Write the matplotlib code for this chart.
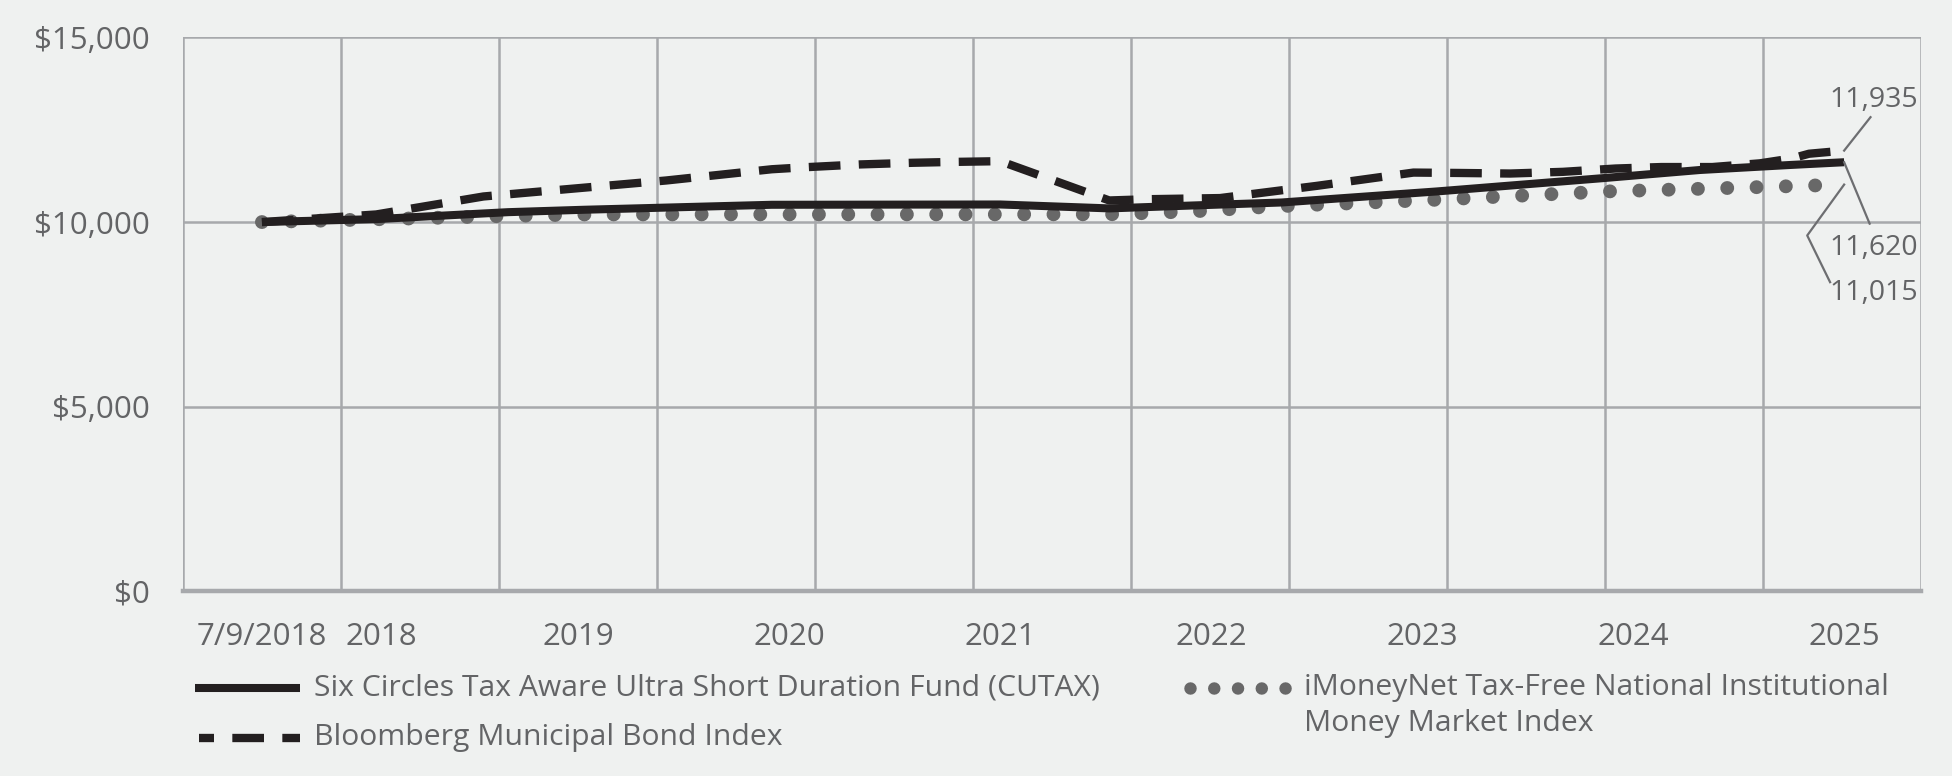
import matplotlib
matplotlib.use("Agg")
import matplotlib.pyplot as plt
from matplotlib.lines import Line2D
import numpy as np

plt.rcParams['font.family'] = ['Open Sans', 'DejaVu Sans']

# x = months since inception (7/9/2018), values = growth of $10,000
fund_x = [0, 6.5, 14, 18.3, 29, 42, 48.2, 53, 58, 66.8, 76.3, 81.8, 86.9, 90]
fund_y = [10000, 10080, 10268, 10333, 10468, 10476, 10370, 10450, 10530, 10828,
          11190, 11410, 11545, 11620]

muni_x = [0, 6.5, 12.6, 23, 29, 31, 34, 37, 39.5, 42, 48.2, 50.5, 54.5, 60, 65.5,
          68, 71, 74, 77, 79.6, 82.5, 85.2, 87, 88, 90]
muni_y = [10000, 10206, 10693, 11126, 11430, 11487, 11560, 11605, 11630, 11649,
          10585, 10620, 10650, 10980, 11340, 11330, 11314, 11360, 11450, 11490,
          11490, 11590, 11720, 11850, 11935]

mm_x = [0, 8.4, 13.4, 18.4, 48.2, 53, 57.5, 66.6, 76.6, 86.5, 90]
mm_y = [10000, 10097, 10160, 10206, 10210, 10290, 10422, 10600, 10830, 10965, 11015]

tick_pos = [0, 6.8, 18, 30, 42, 54, 66, 78, 90]
tick_labels = ['7/9/2018', '2018', '2019', '2020', '2021', '2022', '2023', '2024', '2025']

fund_name = 'Six Circles Tax Aware Ultra Short Duration Fund (CUTAX)'
muni_name = 'Bloomberg Municipal Bond Index'
mm_name = 'iMoneyNet Tax-Free National Institutional\nMoney Market Index'

bg = '#eff1f0'
grid_c = '#a7a9ac'
text_c = '#636466'
dark = '#231f20'
dot_c = '#686868'
fs_tick = 22.5
fs_leg = 21.7
fs_val = 20.5

fund_style = dict(color=dark, lw=5.8, solid_capstyle='butt')
muni_style = dict(color=dark, lw=6, linestyle=(0, (3.8, 2.2)), dash_capstyle='butt')
mm_style = dict(color=dot_c, lw=10, linestyle=(0, (0.001, 2.11)), dash_capstyle='round')

fig = plt.figure(figsize=(19.52, 7.76), dpi=100, facecolor=bg)
ax = fig.add_axes([0.09375, 0.2379, 0.89035, 0.7139])
ax.set_facecolor(bg)

xmin, xmax = -4.49, 94.37
ax.set_xlim(xmin, xmax)
ax.set_ylim(0, 15000)

# grid
for gx in np.linspace(xmin, xmax, 12):
    ax.axvline(gx, color=grid_c, lw=1.8, zorder=0)
for gy in [5000, 10000, 15000]:
    ax.axhline(gy, color=grid_c, lw=1.8, zorder=0)
ax.axhline(0, color=grid_c, lw=3.2, zorder=0, clip_on=False)
for s in ax.spines.values():
    s.set_visible(False)

ax.plot(mm_x, mm_y, zorder=2, **mm_style)
ax.plot(fund_x, fund_y, zorder=3, **fund_style)
ax.plot(muni_x, muni_y, zorder=4, **muni_style)

ax.set_yticks([0, 5000, 10000, 15000])
ax.set_yticklabels(['$0', '$5,000', '$10,000', '$15,000'])
ax.set_xticks(tick_pos)
ax.set_xticklabels(tick_labels)
ax.tick_params(length=0, labelsize=fs_tick, labelcolor=text_c)
ax.tick_params(axis='y', pad=24)
ax.tick_params(axis='x', pad=22)

# end value labels with leader lines
lc = '#6d6e71'
ax.plot([90, 91.5], [muni_y[-1], 12840], color=lc, lw=1.6, clip_on=False, zorder=5)
ax.plot([90, 91.45], [fund_y[-1], 9957], color=lc, lw=1.6, clip_on=False, zorder=5)
ax.plot([90, 87.9, 89.2], [mm_y[-1], 9637, 8373], color=lc, lw=1.6, clip_on=False, zorder=5)
ax.text(91.7, 13293, f'{muni_y[-1]:,}', ha='center', va='center', fontsize=fs_val, color=text_c)
ax.text(91.7, 9285, f'{fund_y[-1]:,}', ha='center', va='center', fontsize=fs_val, color=text_c)
ax.text(91.7, 8067, f'{mm_y[-1]:,}', ha='center', va='center', fontsize=fs_val, color=text_c)

# legend, drawn by hand
W, H = 1952.0, 776.0
fig.add_artist(Line2D([195 / W, 300 / W], [1 - 688 / H] * 2, **fund_style))
fig.add_artist(Line2D([199 / W, 300 / W], [1 - 738 / H] * 2,
                      **dict(muni_style, linestyle=(2.0, (3.8, 2.2)))))
fig.add_artist(Line2D([1190 / W, 1289 / W], [1 - 688 / H] * 2,
                      **dict(mm_style, lw=9, linestyle=(0, (0.001, 1.9)))))
fig.text(314 / W, 1 - 688 / H, fund_name, fontsize=fs_leg, color=text_c, va='center')
fig.text(314 / W, 1 - 738 / H, muni_name, fontsize=fs_leg, color=text_c, va='center')
fig.text(1304 / W, 1 - 687 / H, mm_name.split('\n')[0], fontsize=fs_leg, color=text_c, va='center')
fig.text(1304 / W, 1 - 723 / H, mm_name.split('\n')[1], fontsize=fs_leg, color=text_c, va='center')

fig.savefig('out.png', dpi=100, facecolor=bg)
